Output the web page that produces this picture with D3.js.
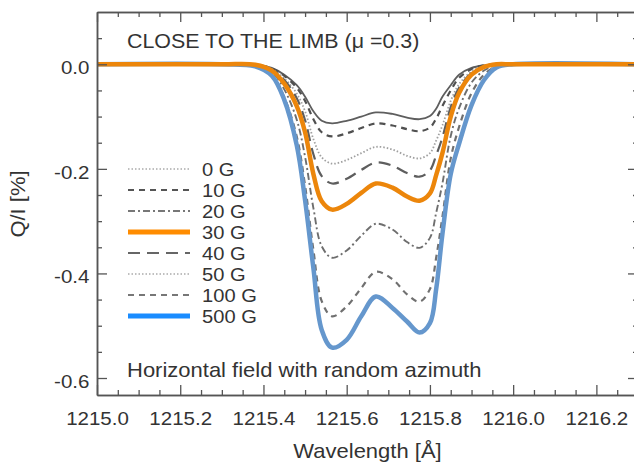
<!DOCTYPE html>
<html>
<head>
<meta charset="utf-8">
<script src="https://cdn.jsdelivr.net/npm/d3@7"></script>
<style>
html,body{margin:0;padding:0;background:#fff;}
svg{display:block;}
</style>
</head>
<body>
<svg id="chart" width="634" height="465"></svg>
<script>
// ---------------- data ----------------
const wavelengths = [1215.00, 1215.30, 1215.38, 1215.42, 1215.45, 1215.48, 1215.50, 1215.52, 1215.54, 1215.565,
  1215.60, 1215.635, 1215.67, 1215.71, 1215.745, 1215.775, 1215.80, 1215.815, 1215.83, 1215.85,
  1215.87, 1215.90, 1215.93, 1215.96, 1216.00, 1216.30];

const seriesLabels = ["0 G", "10 G", "20 G", "30 G", "40 G", "50 G", "100 G", "500 G"];

const q0G   = [0, 0, 0, -0.007, -0.02, -0.04, -0.062, -0.09, -0.108, -0.113, -0.108, -0.100, -0.092, -0.095, -0.102, -0.105, -0.099, -0.085, -0.062, -0.04, -0.02, -0.007, -0.002, 0, 0, 0];
const q10G  = [0, 0, -0.001, -0.008, -0.022, -0.045, -0.07, -0.105, -0.13, -0.138, -0.132, -0.122, -0.113, -0.117, -0.124, -0.128, -0.121, -0.104, -0.08, -0.05, -0.026, -0.009, -0.002, 0, 0, 0];
const q20G  = [0, 0, -0.002, -0.015, -0.048, -0.106, -0.177, -0.275, -0.348, -0.37, -0.356, -0.328, -0.305, -0.316, -0.34, -0.351, -0.332, -0.284, -0.228, -0.137, -0.084, -0.035, -0.012, -0.002, 0, 0];
const q30G  = [0, 0, -0.001, -0.012, -0.037, -0.08, -0.13, -0.21, -0.262, -0.278, -0.267, -0.246, -0.228, -0.236, -0.253, -0.261, -0.247, -0.212, -0.17, -0.10, -0.055, -0.02, -0.005, 0, 0, 0];
const q40G  = [0, 0, -0.001, -0.01, -0.03, -0.065, -0.107, -0.172, -0.214, -0.228, -0.219, -0.202, -0.188, -0.194, -0.208, -0.215, -0.203, -0.174, -0.14, -0.082, -0.045, -0.017, -0.004, 0, 0, 0];
const q50G  = [0, 0, -0.001, -0.009, -0.027, -0.056, -0.09, -0.143, -0.178, -0.19, -0.183, -0.170, -0.158, -0.163, -0.175, -0.18, -0.17, -0.146, -0.117, -0.07, -0.038, -0.014, -0.004, 0, 0, 0];
const q100G = [0, 0, -0.002, -0.02, -0.063, -0.138, -0.232, -0.355, -0.453, -0.482, -0.463, -0.428, -0.397, -0.411, -0.44, -0.454, -0.43, -0.37, -0.292, -0.18, -0.12, -0.055, -0.02, -0.004, 0, 0];
const q500G = [0, 0, -0.004, -0.022, -0.068, -0.155, -0.26, -0.39, -0.508, -0.542, -0.527, -0.482, -0.444, -0.466, -0.492, -0.513, -0.495, -0.43, -0.325, -0.21, -0.152, -0.078, -0.03, -0.006, 0, 0];

const xTickValues = [1215.0, 1215.2, 1215.4, 1215.6, 1215.8, 1216.0, 1216.2];
const xTickLabels = ["1215.0", "1215.2", "1215.4", "1215.6", "1215.8", "1216.0", "1216.2"];
const yTickValues = [0, -0.2, -0.4, -0.6];
const yTickLabels = ["0.0", "-0.2", "-0.4", "-0.6"];

const titleText = "CLOSE TO THE LIMB (\u03BC =0.3)";
const noteText = "Horizontal field with random azimuth";
const xTitle = "Wavelength [\u00C5]";
const yTitle = "Q/I [%]";

// ---------------- styles ----------------
const seriesValues = [q0G, q10G, q20G, q30G, q40G, q50G, q100G, q500G];
const curveStyle = [
  {stroke: "#5e5e5e", width: 1.8, dash: null},
  {stroke: "#505050", width: 2.2, dash: "6,5"},
  {stroke: "#6e6e6e", width: 1.9, dash: "7,3,2,3"},
  {stroke: "#ec860b", width: 4.5, dash: null},
  {stroke: "#5e5e5e", width: 2.2, dash: "12,7"},
  {stroke: "#a0a0a0", width: 1.8, dash: "1.5,2"},
  {stroke: "#707070", width: 2.2, dash: "6,5"},
  {stroke: "#6597cd", width: 4.5, dash: null}
];
const legendStyle = [
  {stroke: "#aaaaaa", width: 1.6, dash: "1.5,2"},
  {stroke: "#555555", width: 2.0, dash: "6,5"},
  {stroke: "#777777", width: 1.8, dash: "7,3,2,3"},
  {stroke: "#ff8c00", width: 5, dash: null},
  {stroke: "#666666", width: 2.0, dash: "12,7"},
  {stroke: "#aaaaaa", width: 1.6, dash: "1.5,2"},
  {stroke: "#777777", width: 2.0, dash: "6,5"},
  {stroke: "#1a8cff", width: 5, dash: null}
];
const drawOrder = [0, 1, 5, 4, 2, 6, 7, 3];

// ---------------- layout ----------------
const svg = d3.select("#chart");
const L = 97, R = 638, T = 12, B = 395;
const x = d3.scaleLinear().domain([1215.0, 1216.3]).range([L, R]);
const y = d3.scaleLinear().domain([-0.6325, 0.1]).range([B, T]);

const textColor = "#333333";
const axisColor = "#555555";
const font = "'Liberation Sans', Arial, Helvetica, sans-serif";

const xMinor = d3.range(1215.05, 1216.3, 0.05).map(v => +v.toFixed(2)).filter(v => Math.abs(Math.round(v * 5) - v * 5) > 1e-6);
const yMinor = d3.range(0.05, -0.63, -0.05).map(v => +v.toFixed(2)).filter(v => Math.abs(Math.round(v * 5) - v * 5) > 1e-6);

function styleAxis(g) {
  g.select(".domain").attr("stroke", axisColor).attr("stroke-width", 1.5);
  g.selectAll(".tick line").attr("stroke", axisColor).attr("stroke-width", 1.3);
}

// curves
const line = d3.line()
  .x((d, i) => x(wavelengths[i]))
  .y(d => y(d))
  .curve(d3.curveCatmullRom.alpha(0.5));

const curves = svg.append("g");
drawOrder.forEach(k => {
  const s = curveStyle[k];
  curves.append("path")
    .datum(seriesValues[k])
    .attr("d", line)
    .attr("fill", "none")
    .attr("stroke", s.stroke)
    .attr("stroke-width", s.width)
    .attr("stroke-dasharray", s.dash)
    .attr("stroke-linejoin", "round");
});

// axes (inward ticks)
const gb = svg.append("g").attr("transform", `translate(0,${B})`)
  .call(d3.axisBottom(x).tickValues(xTickValues).tickSize(-10).tickSizeOuter(0).tickPadding(17)
    .tickFormat((d, i) => xTickLabels[i]));
styleAxis(gb);
gb.selectAll(".tick text")
  .attr("fill", textColor).style("font-family", font).style("font-size", "19px")
  .attr("transform", "scale(1.08,1)");
const gbm = svg.append("g").attr("transform", `translate(0,${B})`)
  .call(d3.axisBottom(x).tickValues(xMinor).tickSize(-5).tickSizeOuter(0).tickFormat(""));
styleAxis(gbm);

const gt = svg.append("g").attr("transform", `translate(0,${T})`)
  .call(d3.axisTop(x).tickValues(xTickValues).tickSize(-10).tickSizeOuter(0).tickFormat(""));
styleAxis(gt);
const gtm = svg.append("g").attr("transform", `translate(0,${T})`)
  .call(d3.axisTop(x).tickValues(xMinor).tickSize(-5).tickSizeOuter(0).tickFormat(""));
styleAxis(gtm);

const gl = svg.append("g").attr("transform", `translate(${L},0)`)
  .call(d3.axisLeft(y).tickValues(yTickValues).tickSize(-10).tickSizeOuter(0).tickPadding(7)
    .tickFormat((d, i) => yTickLabels[i]));
styleAxis(gl);
gl.selectAll(".tick text")
  .attr("fill", textColor).style("font-family", font).style("font-size", "19px")
  .attr("dy", "0.5em")
  .attr("transform", "scale(1.08,1)");
const glm = svg.append("g").attr("transform", `translate(${L},0)`)
  .call(d3.axisLeft(y).tickValues(yMinor).tickSize(-5).tickSizeOuter(0).tickFormat(""));
styleAxis(glm);

const gr = svg.append("g").attr("transform", `translate(${R},0)`)
  .call(d3.axisRight(y).tickValues(yTickValues).tickSize(-10).tickSizeOuter(0).tickFormat(""));
styleAxis(gr);
const grm = svg.append("g").attr("transform", `translate(${R},0)`)
  .call(d3.axisRight(y).tickValues(yMinor).tickSize(-5).tickSizeOuter(0).tickFormat(""));
styleAxis(grm);

// texts
function stretchedText(xp, yp, str, size, anchor, sx) {
  svg.append("g").attr("transform", `translate(${xp},${yp}) scale(${sx},1)`)
    .append("text")
    .attr("text-anchor", anchor)
    .attr("fill", textColor)
    .style("font-family", font)
    .style("font-size", size + "px")
    .text(str);
}
stretchedText(127, 48, titleText, 20, "start", 1.07);
stretchedText(127, 377, noteText, 20, "start", 1.1);
stretchedText((L + R) / 2, 458, xTitle, 20, "middle", 1.1);

svg.append("g").attr("transform", "translate(25,204) rotate(-90) scale(1.1,1)")
  .append("text")
  .attr("text-anchor", "middle")
  .attr("fill", textColor)
  .style("font-family", font)
  .style("font-size", "20px")
  .text(yTitle);

// legend
const legendY = d3.scaleLinear().domain([0, 7]).range([169, 316]);
const lg = svg.append("g");
seriesLabels.forEach((lab, i) => {
  const s = legendStyle[i];
  lg.append("line")
    .attr("x1", 128).attr("x2", 190)
    .attr("y1", legendY(i)).attr("y2", legendY(i))
    .attr("stroke", s.stroke)
    .attr("stroke-width", s.width)
    .attr("stroke-dasharray", s.dash);
  lg.append("g").attr("transform", `translate(202,${legendY(i) + 7}) scale(1.06,1)`)
    .append("text")
    .attr("fill", textColor)
    .style("font-family", font)
    .style("font-size", "19px")
    .text(lab);
});
</script>
</body>
</html>
